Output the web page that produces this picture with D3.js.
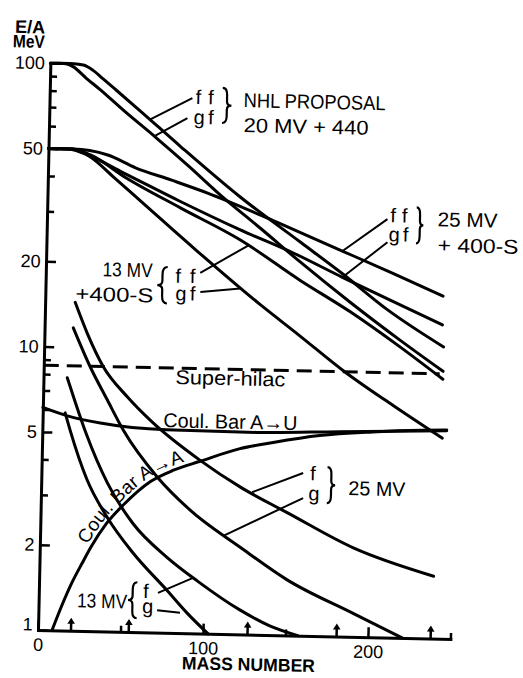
<!DOCTYPE html>
<html><head><meta charset="utf-8">
<script src="https://cdn.jsdelivr.net/npm/d3@7"></script>
<style>
html,body{margin:0;padding:0;background:#fff;}
svg{display:block;}
text{font-family:"Liberation Sans",Arial,Helvetica,sans-serif;fill:#000;}
</style></head><body>
<svg id="chart" width="523" height="678"></svg>
<script>
// ---------- data: [mass number A, E/A in MeV] ----------
const nhlFF   = [[0,100],[12,100],[20,99],[26,95],[32,89],[40,81.5],[55,69],[80,52],[117,34.8],[154,24.4],[180,19],[207,14.4],[242,10.7]];
const nhlGF   = [[0,100],[8,100],[14,97.4],[22,89],[30.7,81.2],[45,69],[64.6,55.9],[85,44.5],[104.8,35.3],[130,27],[154,20.8],[185,15.1],[215.7,11.2],[242,8.78]];
const mv25FF  = [[0,50],[15,50],[25,49.5],[36,47.9],[53,43.4],[75,39.5],[97,35.8],[140,28.5],[179.4,22.9],[210,19.3],[241,16.15]];
const mv25GF  = [[0,50],[12,50],[21,48.5],[46,41.5],[80,33.4],[117.3,26.7],[150,22.3],[179.8,18.5],[210,15.4],[241,12.8]];
const mv13FF  = [[0,50],[14,50],[25.5,47.8],[47.5,39.9],[80.7,31.6],[117.5,24.6],[154.3,17.9],[185,14.0],[215.8,10.6],[242,8.23]];
const mv13GF  = [[0,50],[14,50],[25.5,47.0],[40,40],[56.4,33.2],[89.1,22.9],[130.4,14.6],[153.2,11.6],[182.8,8.56],[212,6.6],[242.4,5.1]];
const mv25F   = [[18.2,14.4],[26,11.2],[36,8.6],[51,6.75],[66,5.55],[96,4.08],[121,3.3],[150,2.7],[190,2.06],[239,1.66]];
const mv25G   = [[17.4,11.7],[28.2,8.54],[39,6.55],[49,5.15],[70.2,3.54],[90.6,2.72],[121.4,2.03],[150.3,1.57],[190.7,1.21],[220.7,1.0]];
const mv13F   = [[14.4,7.8],[20,6.3],[27,4.9],[40,3.35],[56,2.42],[77,1.85],[96,1.53],[122,1.22],[140,1.08],[157.5,1.0]];
const mv13G   = [[13.6,5.86],[16.8,5.1],[27.8,3.41],[40.4,2.53],[56.6,1.9],[77.7,1.41],[90,1.18],[103,1.0]];
const coulAU  = [[0,6.1],[15,5.72],[35,5.43],[75,5.2],[130,5.17],[180,5.28],[245,5.42]];
const coulAA  = [[8.5,1.0],[14,1.22],[20,1.48],[26,1.74],[31,1.98],[40,2.4],[50,2.8],[66,3.4],[80,3.75],[96,4.05],[120,4.52],[140,4.78],[168,5.1],[200,5.3],[230,5.42],[245,5.45]];
const superHilac = [[0,8.6],[240,8.6]];
const arrowMasses = [20,55,127,181,238];
const yTickLabels = [1,2,5,10,20,50,100];
const xTickLabels = [0,100,200];
const xMinorTicks = [50,150,250];

// ---------- layout ----------
const svg = d3.select('#chart');
const g = svg.append('g').attr('transform','rotate(1.25,38,630)');
const x = d3.scaleLinear().domain([0,250]).range([38,450.5]);
const y = d3.scaleLog().domain([1,100]).range([630,63]);
const FONT = '"Liberation Sans",Arial,Helvetica,sans-serif';

// y axis
const yMajor = g.append('g').attr('transform',`translate(${x(0)},0)`)
  .call(d3.axisLeft(y).tickValues(yTickLabels).tickSize(-10).tickSizeOuter(0).tickPadding(5.5).tickFormat(d3.format('d')));
const yMinor = g.append('g').attr('transform',`translate(${x(0)},0)`)
  .call(d3.axisLeft(y).tickValues(y.ticks().filter(v=>!yTickLabels.includes(v))).tickSize(-7).tickSizeOuter(0).tickFormat(''));
yMinor.select('.domain').remove();
// x axis
const xMajor = g.append('g').attr('transform',`translate(0,${y(1)})`)
  .call(d3.axisBottom(x).tickValues(xTickLabels).tickSize(-10).tickSizeOuter(0).tickPadding(8).tickFormat(d3.format('d')));
const xMinor = g.append('g').attr('transform',`translate(0,${y(1)})`)
  .call(d3.axisBottom(x).tickValues(xMinorTicks).tickSize(-6).tickSizeOuter(0).tickFormat(''));
xMinor.select('.domain').remove();
[yMajor,yMinor,xMajor,xMinor].forEach(a=>{
  a.attr('font-family',FONT).attr('font-size',18);
  a.selectAll('.domain').attr('stroke','#000').attr('stroke-width',3).attr('stroke-linecap','square');
  a.selectAll('.tick line').attr('stroke','#000').attr('stroke-width',2.5);
  a.selectAll('.tick text').attr('fill','#000');
});
yMajor.selectAll('.tick').filter(d=>d===1).select('text').attr('dy','0.0em');

// curves
const line = d3.line().x(d=>x(d[0])).y(d=>y(d[1])).curve(d3.curveMonotoneX);
const curves = [nhlFF,nhlGF,mv25FF,mv25GF,mv13FF,mv13GF,mv25F,mv25G,mv13F,mv13G,coulAU,coulAA];
g.append('g').selectAll('path').data(curves).join('path')
  .attr('d',line).attr('fill','none').attr('stroke','#000').attr('stroke-width',3)
  .attr('stroke-linecap','round').attr('stroke-linejoin','round');
g.append('path').attr('d',d3.line().x(d=>x(d[0])).y(d=>y(d[1]))(superHilac))
  .attr('fill','none').attr('stroke','#000').attr('stroke-width',3).attr('stroke-dasharray','15,8');

// arrows on mass axis
const arr = g.append('g');
arrowMasses.forEach(m=>{
  const cx = x(m), by = y(1);
  arr.append('line').attr('x1',cx).attr('x2',cx).attr('y1',by).attr('y2',by-9).attr('stroke','#000').attr('stroke-width',2.5);
  arr.append('path').attr('d',`M${cx-3.8},${by-7}L${cx},${by-13}L${cx+3.8},${by-7}Z`).attr('fill','#000');
});

// leader lines
const leaders = [
  [[61.3,64.5],[86.5,77.2]], [[64.6,56.5],[83.8,65.6]],
  [[179.5,22.9],[206.3,29.9]], [[179.8,18.5],[206.6,24.8]],
  [[93.6,18.7],[122.5,23.6]], [[93.9,16.0],[118.1,16.6]],
  [[158.6,3.75],[127.9,3.18]], [[158.9,3.06],[111,2.22]],
  [[72.2,1.38],[93.3,1.57]], [[71.9,1.20],[85.8,1.18]]
];
g.append('g').selectAll('line').data(leaders).join('line')
  .attr('x1',d=>x(d[0][0])).attr('y1',d=>y(d[0][1])).attr('x2',d=>x(d[1][0])).attr('y2',d=>y(d[1][1]))
  .attr('stroke','#000').attr('stroke-width',2);

// braces: base A, top E, bottom E, width px (negative = "{")
const braces = [[104.8,84.3,63.4,9],[223.9,33.1,24.7,7],[73.8,19.5,14.5,-10],[173.3,3.95,2.95,8],[59.6,1.50,1.12,-9]];
function bracePath(xb,yt,yb,w){
  const h=yb-yt, cy=(yt+yb)/2, xm=xb+w/2;
  return `M${xb},${yt}Q${xm},${yt} ${xm},${yt+0.2*h}L${xm},${cy-0.12*h}Q${xm},${cy} ${xb+w},${cy}`+
         `Q${xm},${cy} ${xm},${cy+0.12*h}L${xm},${yb-0.2*h}Q${xm},${yb} ${xb},${yb}`;
}
g.append('g').selectAll('path').data(braces).join('path')
  .attr('d',d=>bracePath(x(d[0]),y(d[1]),y(d[2]),d[3]))
  .attr('fill','none').attr('stroke','#000').attr('stroke-width',2.2);

// annotation text
const ann = [
  {t:'ff',A:88.5,E:73.6,w:18,s:1},{t:'gf',A:87.5,E:62.6,w:20,s:1},
  {t:'NHL PROPOSAL',A:117.6,E:72.4,w:142},{t:'20 MV + 440',A:117.9,E:59.1,w:125},
  {t:'ff',A:208.1,E:29.2,w:17,s:1},{t:'gf',A:207.2,E:25.0,w:20,s:1},
  {t:'25 MV',A:236.7,E:28.5,w:60},{t:'+ 400-S',A:237,E:23.1,w:81},
  {t:'13 MV',A:64.7,E:17.9,w:50,anchor:'end'},{t:'+400-S',A:65.5,E:14.6,w:78,anchor:'end'},
  {t:'ff',A:78.6,E:17.2,w:20,s:1},{t:'gf',A:78.8,E:14.9,w:20,s:1},
  {t:'Super-hilac',A:79.9,E:7.55,w:110},
  {t:'Coul. Bar A\u2192U',A:73.2,E:5.31,w:134},
  {t:'f',A:162.9,E:3.54},{t:'g',A:162,E:3.01},{t:'25 MV',A:186.2,E:3.16,w:57},
  {t:'13 MV',A:23.3,E:1.21,w:50},{t:'f',A:63.2,E:1.32},{t:'g',A:62.8,E:1.17}
];
const at = g.append('g');
ann.forEach(d=>{
  const t = at.append('text').attr('x',x(d.A)).attr('y',y(d.E)).attr('font-size',20)
    .attr('text-anchor',d.anchor||'start').text(d.t);
  if(d.w) t.attr('textLength',d.w).attr('lengthAdjust',d.s?'spacing':'spacingAndGlyphs');
});

// text along A->A Coulomb barrier curve
const aaPath = g.append('path').attr('id','aaPath').attr('d',line(coulAA)).attr('fill','none').attr('stroke','none');
const node = aaPath.node(), total = node.getTotalLength();
let lo=0, hi=total;
for(let i=0;i<40;i++){const mid=(lo+hi)/2; if(node.getPointAtLength(mid).x < x(31)) lo=mid; else hi=mid;}
g.append('text').attr('font-size',19).attr('dy',-4)
  .append('textPath').attr('href','#aaPath').attr('startOffset',lo).text('Coul. Bar A\u2192A');

// axis titles
g.append('text').attr('x',17).attr('y',33.5).attr('text-anchor','middle').attr('font-size',18).attr('font-weight','bold').text('E/A');
g.append('text').attr('x',16).attr('y',48).attr('text-anchor','middle').attr('font-size',18).attr('font-weight','bold')
  .attr('textLength',32).attr('lengthAdjust','spacingAndGlyphs').text('MeV');
g.append('text').attr('x',x(128)).attr('y',666).attr('text-anchor','middle').attr('font-size',18).attr('font-weight','bold')
  .attr('textLength',133).attr('lengthAdjust','spacingAndGlyphs').text('MASS NUMBER');
</script>
</body></html>
